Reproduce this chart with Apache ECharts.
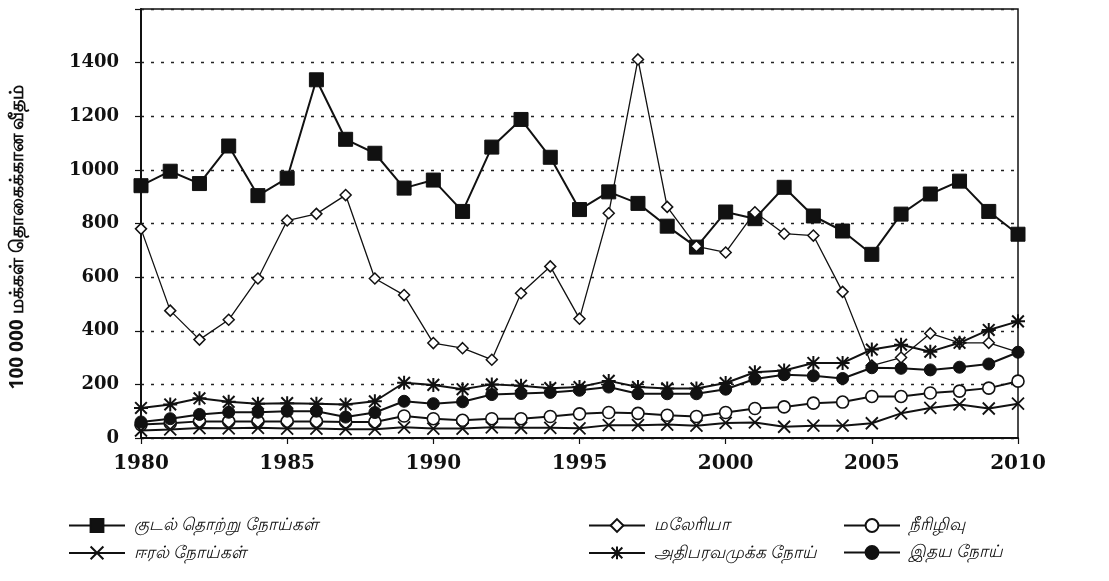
<!DOCTYPE html>
<html>
<head>
<meta charset="utf-8">
<script src="https://cdn.jsdelivr.net/npm/echarts@6/dist/echarts.min.js"></script>
<style>html,body{margin:0;padding:0;background:#fff;}#c{width:1109px;height:581px;}</style>
</head>
<body>
<div id="c"></div>
<script>
const years = [1980,1981,1982,1983,1984,1985,1986,1987,1988,1989,1990,1991,1992,1993,1994,1995,1996,1997,1998,1999,2000,2001,2002,2003,2004,2005,2006,2007,2008,2009,2010];
const intestinal = [941,995,949,1089,904,969,1336,1114,1062,932,962,845,1085,1188,1047,852,918,875,790,712,843,818,935,828,772,685,835,910,958,845,760];
const malaria = [780,475,367,441,595,811,836,906,595,533,354,335,292,540,640,445,838,1412,862,715,692,842,762,755,545,270,300,390,355,355,320];
const diabetes = [50,55,62,62,62,62,62,60,60,82,72,66,72,72,80,90,95,92,85,80,95,110,116,130,134,155,155,168,175,186,212];
const liver = [28,32,37,36,38,35,35,33,33,40,35,35,40,38,38,36,48,48,50,46,56,58,42,46,46,55,92,112,125,110,128];
const hypertension = [112,125,148,135,128,130,128,125,137,206,198,182,200,195,186,190,213,190,185,185,205,245,252,280,280,330,348,322,355,403,435];
const heart = [60,72,88,96,96,100,100,78,95,137,128,135,162,166,170,178,190,165,165,165,182,220,236,232,222,262,260,254,264,276,320];
const yTicks = [0,200,400,600,800,1000,1200,1400];
const xTicks = [1980,1985,1990,1995,2000,2005,2010];

const names = {
  intestinal: 'குடல் தொற்று நோய்கள்',
  malaria: 'மலேரியா',
  diabetes: 'நீரிழிவு',
  liver: 'ஈரல் நோய்கள்',
  hypertension: 'அதிபரவமுக்க நோய்',
  heart: 'இதய நோய்'
};
const yName = '100 000 மக்கள் தொகைக்கான வீதம்';

function pairs(arr){ return years.map((y,i)=>[y,arr[i]]); }

const tamilFont = '"Noto Sans", "DejaVu Sans", sans-serif';
const numFont = '"DejaVu Serif", serif';

function mkSeries(name, arr, symbol, size, fill, lw, bw){
  return {
    name: name, type: 'line', data: pairs(arr),
    symbol: symbol, symbolSize: size,
    lineStyle: {color: '#111', width: lw},
    itemStyle: {color: fill, borderColor: '#111', borderWidth: bw},
    emphasis: {disabled: true},
    z: 3
  };
}

const xPath = 'path://M0,0L10,10M10,0L0,10';
const starPath = 'path://M0,0L10,10M10,0L0,10M5,-1L5,11M-1,5L11,5';

const series = [
  mkSeries(names.intestinal, intestinal, 'rect', 14, '#111', 2, 1),
  mkSeries(names.malaria, malaria, 'diamond', 11, '#fff', 1.3, 1.5),
  mkSeries(names.diabetes, diabetes, 'circle', 12, '#fff', 2, 1.6),
  mkSeries(names.liver, liver, xPath, 12, 'none', 2, 1.8),
  mkSeries(names.hypertension, hypertension, starPath, 14, 'none', 2, 2),
  mkSeries(names.heart, heart, 'circle', 12, '#111', 2, 1)
];

function legendCol(left, items){
  return {
    left: left, top: 512, orient: 'vertical', itemGap: 10,
    itemWidth: 56, itemHeight: 16,
    data: items,
    textStyle: {fontFamily: tamilFont, fontSize: 17, fontStyle: 'italic', color: '#111', padding: [0,0,0,4]},
    selectedMode: false
  };
}

const chart = echarts.init(document.getElementById('c'), null, {renderer: 'canvas'});
chart.setOption({
  animation: false,
  backgroundColor: '#fff',
  grid: {left: 141, right: 91, top: 9, bottom: 143, show: true, borderColor: '#111', borderWidth: 1.5, backgroundColor: 'transparent'},
  xAxis: {
    type: 'value', min: 1980, max: 2010, interval: 5,
    axisLine: {show: true, lineStyle: {color: '#111', width: 2}},
    axisTick: {show: true, inside: false, length: 6, lineStyle: {color: '#111', width: 1.2}},
    axisLabel: {color: '#111', fontFamily: numFont, fontWeight: 'bold', fontSize: 20, margin: 16,
      formatter: v => xTicks.includes(v) ? String(v) : ''},
    splitLine: {show: false}
  },
  yAxis: {
    type: 'value', min: 0, max: 1600, interval: 200,
    axisLine: {show: true, lineStyle: {color: '#111', width: 2}},
    axisTick: {show: true, inside: false, length: 6, lineStyle: {color: '#111', width: 1.2}},
    axisLabel: {color: '#111', fontFamily: numFont, fontWeight: 'bold', fontSize: 18, margin: 22,
      formatter: v => yTicks.includes(v) ? String(v) : ''},
    splitLine: {show: true, lineStyle: {color: '#222', width: 1.3, type: [3, 7]},
      interval: (i, v) => v > 0 && yTicks.includes(v)}
  },
  legend: [
    legendCol(63, [names.intestinal, names.liver]),
    legendCol(583, [names.malaria, names.hypertension]),
    legendCol(838, [names.diabetes, names.heart])
  ],
  graphic: [{
    type: 'text', x: 18, y: 237, rotation: Math.PI / 2,
    style: {text: yName, fontFamily: tamilFont, fontWeight: 'bold', fontSize: 19, fill: '#111',
      textAlign: 'center', textVerticalAlign: 'middle'}
  }],
  series: series
});
</script>
</body>
</html>
